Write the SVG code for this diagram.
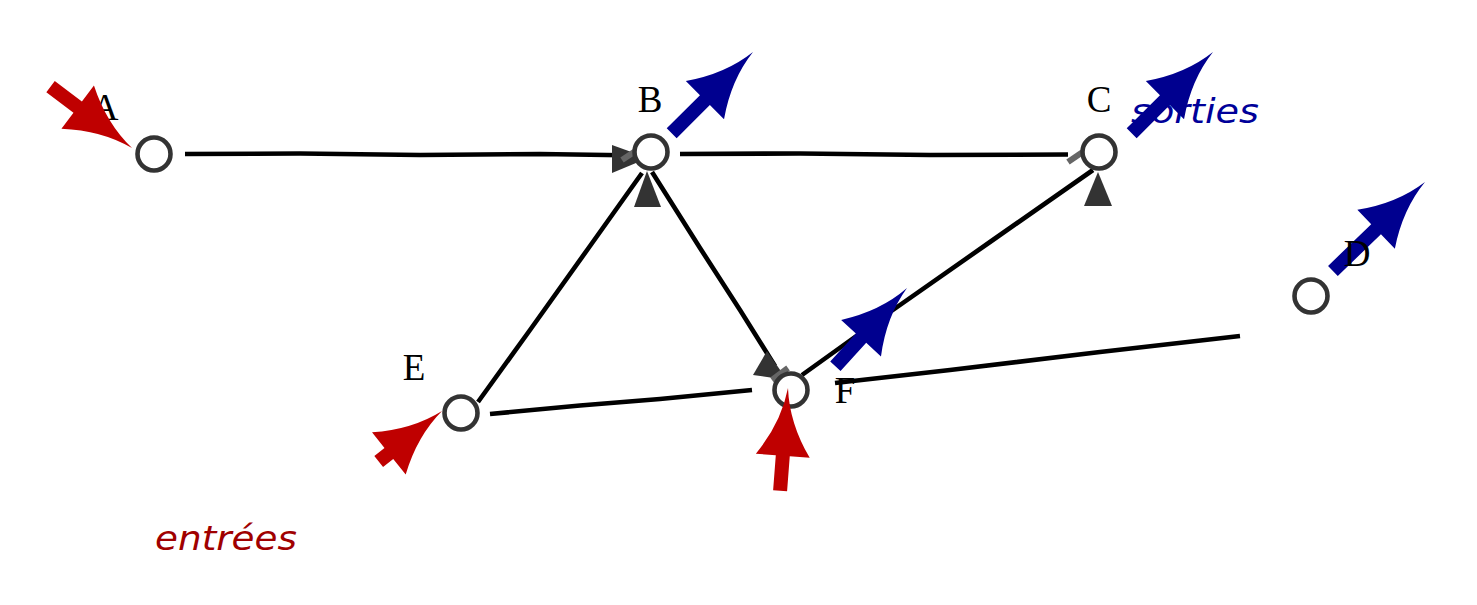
<svg xmlns="http://www.w3.org/2000/svg" width="1477" height="605" viewBox="0 0 1477 605">
<style>
.edge{fill:none;stroke:#000;stroke-width:4.6;stroke-linejoin:round}
.node{fill:#fff;stroke:#333;stroke-width:4.6}
.lbl{font-family:"Liberation Serif",serif;font-size:37px;fill:#000;text-anchor:middle}
.tri{fill:#333}
.ghost{stroke:#666;stroke-width:6;fill:none}
.in{fill:#bf0000}
.out{fill:#00008f}
.cap{font-family:"DejaVu Sans",sans-serif;font-style:italic;font-size:34px}
</style>
<rect width="1477" height="605" fill="#fff"/>
<g id="connectors">
<path class="edge" d="M185,154 L300,153.5 L420,155 L540,154 L640,155.5"/>
<path class="edge" d="M680,154 L800,153.5 L930,155 L1068,154.5"/>
<path class="edge" d="M478,402 L530,330 L590,246 L642,173"/>
<path class="edge" d="M652,172 L700,248 L740,310 L775,366"/>
<path class="edge" d="M802,375 L880,319 L990,242 L1093,170"/>
<path class="edge" d="M490,414 L580,405.5 L660,399 L752,390"/>
<path class="edge" d="M835,383 L950,370 L1100,352 L1240,336"/>
<polygon class="tri" points="612,145 648,158 612,173"/>
<line class="ghost" x1="622" y1="160" x2="643" y2="146"/>
<polygon class="tri" points="753,375 767,351 787,380"/>
<line class="ghost" x1="772" y1="380" x2="788" y2="368"/>
<line class="ghost" x1="1068" y1="162" x2="1093" y2="145"/>
</g>
<g id="node-A"><circle class="node" cx="154" cy="154" r="16.5"/><text class="lbl" x="105" y="120">A</text></g>
<g id="node-B"><circle class="node" cx="651" cy="152" r="16.5"/><polygon class="tri" points="647,171 634,207 661,207"/><text class="lbl" x="650" y="112">B</text></g>
<g id="node-C"><circle class="node" cx="1099" cy="152" r="16.5"/><polygon class="tri" points="1098,172 1084,206 1112,206"/><text class="lbl" x="1099" y="112">C</text></g>
<g id="node-D"><circle class="node" cx="1311" cy="296" r="16.5"/></g>
<g id="node-E"><circle class="node" cx="461" cy="413" r="16.5"/><text class="lbl" x="414" y="380">E</text></g>
<g id="node-F"><circle class="node" cx="791" cy="390" r="16.5"/></g>
<text id="sorties" class="cap" x="1131" y="123" fill="#000099" textLength="128" lengthAdjust="spacingAndGlyphs">sorties</text>
<g id="arrows">
<path class="in" transform="translate(132,148) rotate(37)" d="M0,0 Q-35,-4 -68,-27 L-68,-7 L-102,-7 L-102,7 L-68,7 L-68,27 Q-35,4 0,0Z"/>
<path class="in" transform="translate(442,411) rotate(-38.6)" d="M0,0 Q-35,-4 -68,-27 L-68,-7 L-81,-7 L-81,7 L-68,7 L-68,27 Q-35,4 0,0Z"/>
<path class="in" transform="translate(788,388) rotate(-85.6)" d="M0,0 Q-35,-4 -68,-27 L-68,-7 L-103,-7 L-103,7 L-68,7 L-68,27 Q-35,4 0,0Z"/>
<path class="out" transform="translate(753,52) rotate(-45)" d="M0,0 Q-35,-4 -68,-27 L-68,-7 L-115,-7 L-115,7 L-68,7 L-68,27 Q-35,4 0,0Z"/>
<path class="out" transform="translate(1213,52) rotate(-45)" d="M0,0 Q-35,-4 -68,-27 L-68,-7 L-115,-7 L-115,7 L-68,7 L-68,27 Q-35,4 0,0Z"/>
<path class="out" transform="translate(1425,182) rotate(-44)" d="M0,0 Q-35,-4 -68,-27 L-68,-7 L-128,-7 L-128,7 L-68,7 L-68,27 Q-35,4 0,0Z"/>
<path class="out" transform="translate(907,288) rotate(-47.5)" d="M0,0 Q-35,-4 -68,-27 L-68,-7 L-106,-7 L-106,7 L-68,7 L-68,27 Q-35,4 0,0Z"/>
</g>
<g id="labels">
<text class="lbl" x="1357" y="266">D</text>
<text class="lbl" x="845" y="403">F</text>
<text id="entrees" class="cap" x="155" y="550" fill="#a00000" textLength="142" lengthAdjust="spacingAndGlyphs">entrées</text>
</g>
</svg>
